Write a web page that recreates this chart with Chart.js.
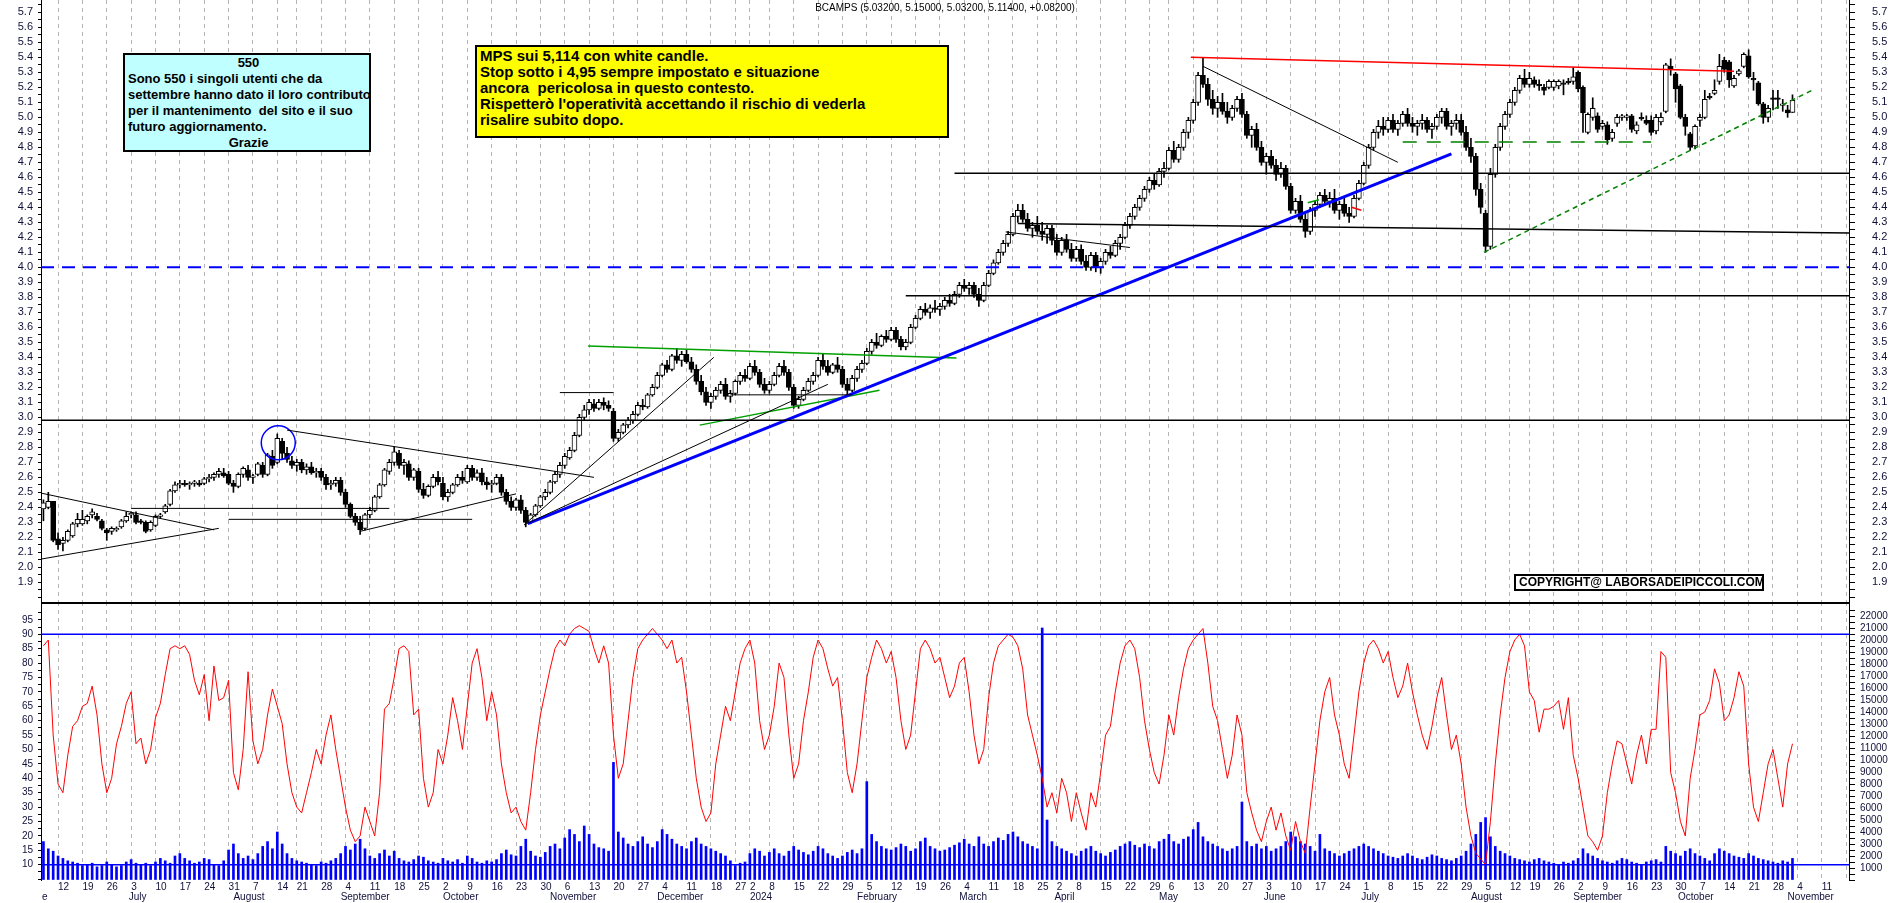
<!DOCTYPE html>
<html>
<head>
<meta charset="utf-8">
<title>BCAMPS</title>
<script src="https://cdn.jsdelivr.net/npm/chart.js@4.4.1/dist/chart.umd.min.js"></script>
<style>
  html, body { margin: 0; padding: 0; background: #fff; }
  body { width: 1890px; height: 903px; position: relative; overflow: hidden; font-family: Arial, "Liberation Sans", sans-serif; }
  canvas { position: absolute; left: 0; }
  #top { top: 0; }
  #bot { top: 602px; }
  #title { position: absolute; top: 2px; left: 0; width: 1890px; text-align: center; font-size: 10px; color: #000; z-index: 2; }
  .note { position: absolute; border: 2px solid #000; font-weight: bold; color: #000; box-sizing: border-box; z-index: 2; white-space: nowrap; }
  #info { left: 123px; top: 53px; width: 248px; height: 99px; background: #c0ffff; font-size: 13px; line-height: 16px; padding: 0 0 0 3px; }
  #info .c { text-align: center; }
  #comment { left: 475px; top: 45px; width: 474px; height: 93px; background: #ffff00; font-size: 15px; line-height: 16px; padding: 1px 3px; }
  #copy { left: 1514px; top: 574px; width: 250px; height: 17px; background: #fff; font-size: 12px; line-height: 13px; padding: 0 3px; }
</style>
</head>
<body>
<canvas id="top" width="1890" height="602"></canvas>
<canvas id="bot" width="1890" height="301"></canvas>
<div id="title">BCAMPS (5.03200, 5.15000, 5.03200, 5.11400, +0.08200)</div>
<div class="note" id="info">
  <div class="c">550</div>
  <div>Sono 550 i singoli utenti che da</div>
  <div>settembre hanno dato il loro contributo</div>
  <div>per il mantenimento&nbsp; del sito e il suo</div>
  <div>futuro aggiornamento.</div>
  <div class="c">Grazie</div>
</div>
<div class="note" id="comment">
  <div>MPS sui 5,114 con white candle.</div>
  <div>Stop sotto i 4,95 sempre impostato e situazione</div>
  <div>ancora&nbsp; pericolosa in questo contesto.</div>
  <div>Rispetterò l'operatività accettando il rischio di vederla</div>
  <div>risalire subito dopo.</div>
</div>
<div class="note" id="copy">COPYRIGHT@ LABORSADEIPICCOLI.COM</div>
<script>
// candele giornaliere [apertura, massimo, minimo, chiusura], dal 7 giugno 2023 al 1 novembre 2024
const candles = [
  [2.39,2.45,2.31,2.43],[2.40,2.50,2.39,2.44],[2.44,2.44,2.17,2.18],
  [2.19,2.23,2.12,2.15],[2.16,2.20,2.11,2.18],[2.18,2.25,2.17,2.24],[2.21,2.30,2.20,2.29],[2.29,2.36,2.27,2.32],
  [2.29,2.38,2.28,2.32],[2.31,2.35,2.29,2.34],[2.35,2.39,2.33,2.37],[2.34,2.36,2.31,2.32],[2.31,2.32,2.25,2.26],
  [2.25,2.26,2.18,2.23],[2.24,2.27,2.22,2.26],[2.25,2.27,2.24,2.26],[2.27,2.32,2.26,2.31],[2.31,2.37,2.30,2.34],
  [2.35,2.37,2.33,2.36],[2.35,2.37,2.29,2.30],[2.31,2.32,2.29,2.30],[2.30,2.31,2.23,2.24],[2.25,2.31,2.24,2.30],
  [2.28,2.35,2.27,2.34],[2.34,2.36,2.33,2.35],[2.37,2.42,2.36,2.41],[2.42,2.52,2.41,2.51],[2.51,2.57,2.50,2.55],
  [2.55,2.58,2.53,2.56],[2.56,2.58,2.54,2.55],[2.55,2.57,2.52,2.56],[2.56,2.58,2.54,2.57],[2.56,2.58,2.54,2.55],
  [2.56,2.60,2.55,2.59],[2.59,2.62,2.57,2.60],[2.60,2.63,2.58,2.62],[2.62,2.66,2.60,2.64],[2.63,2.66,2.60,2.61],
  [2.62,2.64,2.55,2.56],[2.56,2.58,2.50,2.54],[2.54,2.63,2.53,2.62],[2.62,2.67,2.60,2.66],[2.65,2.68,2.58,2.60],
  [2.60,2.62,2.56,2.61],[2.62,2.70,2.61,2.69],[2.68,2.70,2.60,2.62],[2.62,2.76,2.61,2.75],[2.74,2.78,2.66,2.68],
  [2.70,2.89,2.69,2.86],[2.84,2.86,2.72,2.76],[2.76,2.80,2.70,2.72],[2.71,2.74,2.66,2.68],
  [2.68,2.72,2.64,2.70],[2.70,2.72,2.63,2.65],[2.65,2.69,2.62,2.67],[2.67,2.70,2.62,2.63],[2.63,2.66,2.60,2.64],
  [2.64,2.66,2.58,2.60],[2.60,2.62,2.52,2.55],[2.55,2.58,2.52,2.56],[2.56,2.60,2.54,2.58],[2.58,2.60,2.48,2.50],
  [2.50,2.52,2.40,2.42],[2.42,2.43,2.33,2.34],[2.34,2.36,2.28,2.30],[2.30,2.34,2.22,2.25],[2.26,2.36,2.25,2.35],
  [2.35,2.40,2.33,2.38],[2.38,2.48,2.37,2.47],[2.47,2.56,2.46,2.55],[2.55,2.66,2.54,2.65],[2.64,2.72,2.62,2.70],
  [2.70,2.80,2.68,2.77],[2.76,2.78,2.66,2.68],[2.68,2.72,2.62,2.70],[2.69,2.71,2.58,2.60],[2.60,2.66,2.58,2.65],
  [2.64,2.66,2.50,2.52],[2.52,2.56,2.46,2.48],[2.48,2.55,2.47,2.54],[2.54,2.62,2.53,2.60],[2.60,2.64,2.55,2.57],
  [2.56,2.60,2.45,2.47],[2.47,2.52,2.44,2.50],[2.50,2.56,2.49,2.55],[2.55,2.62,2.54,2.60],[2.60,2.64,2.56,2.58],
  [2.57,2.68,2.56,2.66],[2.66,2.68,2.58,2.60],[2.60,2.65,2.58,2.63],[2.63,2.66,2.55,2.57],[2.57,2.60,2.52,2.55],
  [2.55,2.58,2.50,2.56],[2.56,2.62,2.55,2.60],[2.60,2.62,2.48,2.50],[2.50,2.52,2.42,2.44],[2.44,2.47,2.38,2.40],
  [2.40,2.46,2.38,2.45],[2.45,2.48,2.36,2.38],[2.38,2.40,2.27,2.30],[2.30,2.36,2.29,2.35],[2.35,2.42,2.34,2.41],
  [2.41,2.48,2.40,2.47],[2.47,2.52,2.45,2.50],[2.50,2.58,2.49,2.57],[2.57,2.64,2.56,2.62],[2.62,2.70,2.60,2.68],
  [2.68,2.76,2.66,2.74],[2.73,2.80,2.72,2.78],[2.78,2.90,2.77,2.88],[2.88,3.02,2.87,3.00],[3.00,3.08,2.98,3.05],
  [3.05,3.12,3.02,3.10],[3.09,3.12,3.04,3.06],[3.06,3.12,3.05,3.10],[3.10,3.13,3.05,3.08],[3.08,3.11,3.04,3.06],
  [3.04,3.06,2.84,2.86],[2.86,2.92,2.84,2.90],[2.90,2.96,2.89,2.95],[2.95,3.00,2.93,2.98],[2.98,3.04,2.96,3.02],
  [3.02,3.10,3.01,3.08],[3.08,3.12,3.05,3.07],[3.07,3.16,3.06,3.15],[3.15,3.22,3.14,3.20],[3.20,3.30,3.19,3.28],
  [3.28,3.36,3.27,3.35],[3.35,3.38,3.30,3.32],[3.32,3.42,3.31,3.41],[3.41,3.46,3.36,3.38],[3.38,3.44,3.34,3.42],
  [3.42,3.45,3.36,3.37],[3.37,3.40,3.30,3.32],[3.32,3.35,3.22,3.24],[3.24,3.28,3.15,3.17],[3.17,3.20,3.08,3.10],
  [3.10,3.16,3.06,3.14],[3.14,3.20,3.12,3.18],[3.18,3.24,3.16,3.22],[3.22,3.26,3.12,3.14],[3.14,3.18,3.10,3.16],
  [3.16,3.25,3.15,3.24],[3.24,3.30,3.22,3.28],[3.28,3.32,3.24,3.26],
  [3.26,3.36,3.25,3.34],[3.34,3.38,3.28,3.30],[3.30,3.32,3.20,3.22],[3.22,3.26,3.16,3.18],
  [3.18,3.24,3.16,3.22],[3.22,3.30,3.21,3.28],[3.28,3.36,3.27,3.34],[3.34,3.38,3.28,3.30],[3.30,3.32,3.18,3.20],
  [3.20,3.22,3.06,3.08],[3.08,3.14,3.06,3.12],[3.12,3.20,3.11,3.18],[3.18,3.26,3.17,3.24],[3.24,3.30,3.22,3.28],
  [3.28,3.40,3.27,3.38],[3.38,3.42,3.32,3.34],[3.34,3.38,3.28,3.30],[3.30,3.36,3.29,3.35],[3.35,3.40,3.30,3.32],
  [3.32,3.34,3.20,3.22],[3.22,3.26,3.15,3.18],[3.18,3.28,3.17,3.26],[3.26,3.34,3.24,3.32],[3.32,3.38,3.30,3.36],
  [3.36,3.46,3.35,3.44],[3.44,3.52,3.42,3.50],[3.50,3.56,3.46,3.48],[3.48,3.55,3.47,3.54],[3.54,3.58,3.50,3.52],
  [3.52,3.60,3.51,3.58],[3.58,3.60,3.50,3.52],[3.52,3.54,3.45,3.47],[3.47,3.52,3.45,3.50],[3.50,3.62,3.49,3.60],
  [3.60,3.68,3.59,3.66],[3.66,3.74,3.65,3.72],[3.72,3.76,3.68,3.70],[3.70,3.75,3.66,3.73],[3.73,3.78,3.70,3.72],
  [3.72,3.76,3.68,3.74],[3.74,3.80,3.72,3.78],[3.78,3.82,3.74,3.76],[3.76,3.84,3.75,3.82],[3.82,3.90,3.80,3.88],
  [3.88,3.92,3.84,3.86],[3.86,3.90,3.82,3.88],[3.88,3.90,3.80,3.82],[3.82,3.86,3.74,3.78],[3.78,3.90,3.77,3.88],
  [3.88,3.98,3.87,3.96],[3.96,4.05,3.95,4.03],[4.03,4.12,4.02,4.10],[4.10,4.18,4.08,4.16],[4.16,4.24,4.14,4.22],
  [4.22,4.36,4.21,4.34],[4.34,4.42,4.30,4.38],[4.38,4.42,4.30,4.32],[4.32,4.36,4.24,4.26],[4.26,4.30,4.20,4.28],
  [4.28,4.34,4.22,4.24],[4.24,4.30,4.18,4.22],[4.22,4.28,4.16,4.26],[4.26,4.28,4.15,4.18],
  [4.18,4.22,4.08,4.10],[4.10,4.20,4.08,4.18],[4.18,4.22,4.10,4.12],[4.12,4.16,4.04,4.06],
  [4.06,4.14,4.04,4.12],[4.12,4.15,4.02,4.04],[4.04,4.08,3.98,4.00],[4.00,4.10,3.98,4.08],[4.08,4.10,3.97,4.00],
  [4.00,4.06,3.96,4.04],[4.04,4.12,4.02,4.10],[4.10,4.14,4.06,4.08],[4.08,4.18,4.07,4.16],[4.16,4.22,4.12,4.20],
  [4.20,4.30,4.19,4.28],[4.28,4.36,4.26,4.34],[4.34,4.42,4.32,4.40],[4.40,4.48,4.38,4.46],[4.46,4.54,4.44,4.52],
  [4.52,4.60,4.50,4.58],[4.58,4.62,4.52,4.55],[4.55,4.66,4.54,4.64],[4.64,4.70,4.60,4.66],
  [4.66,4.80,4.65,4.78],[4.78,4.84,4.70,4.72],[4.72,4.82,4.70,4.80],[4.80,4.92,4.78,4.90],[4.90,5.00,4.86,4.98],
  [4.98,5.12,4.96,5.10],[5.10,5.30,5.08,5.28],[5.28,5.40,5.20,5.22],[5.22,5.26,5.08,5.12],[5.12,5.18,5.02,5.06],
  [5.06,5.14,5.00,5.10],[5.10,5.16,5.02,5.04],[5.04,5.10,4.96,5.00],[5.00,5.08,4.98,5.06],[5.06,5.14,5.04,5.12],
  [5.12,5.16,5.00,5.02],[5.02,5.04,4.86,4.88],[4.88,4.94,4.80,4.92],[4.92,4.96,4.78,4.80],[4.80,4.84,4.68,4.70],
  [4.70,4.76,4.62,4.74],[4.74,4.78,4.66,4.68],[4.68,4.72,4.58,4.62],[4.62,4.70,4.60,4.66],[4.66,4.68,4.52,4.54],
  [4.54,4.56,4.36,4.38],[4.38,4.46,4.36,4.44],[4.44,4.48,4.30,4.32],[4.32,4.36,4.20,4.24],[4.24,4.40,4.22,4.38],
  [4.38,4.44,4.34,4.42],[4.42,4.50,4.40,4.48],[4.48,4.52,4.42,4.44],[4.44,4.50,4.40,4.46],[4.46,4.52,4.36,4.38],
  [4.38,4.44,4.32,4.42],[4.42,4.46,4.34,4.36],[4.36,4.40,4.30,4.34],[4.34,4.48,4.33,4.46],[4.46,4.58,4.45,4.56],
  [4.56,4.70,4.55,4.68],[4.68,4.82,4.66,4.80],[4.80,4.92,4.78,4.90],[4.90,4.98,4.86,4.94],[4.94,5.00,4.88,4.92],
  [4.92,5.00,4.90,4.98],[4.98,5.02,4.90,4.92],[4.92,4.98,4.88,4.96],[4.96,5.04,4.94,5.02],[5.02,5.06,4.94,4.96],
  [4.96,5.00,4.90,4.94],[4.94,4.98,4.88,4.96],[4.96,5.02,4.92,4.98],[4.98,5.00,4.90,4.92],[4.92,4.96,4.86,4.94],
  [4.94,5.02,4.92,5.00],[5.00,5.06,4.96,5.04],[5.04,5.06,4.92,4.94],[4.94,4.98,4.88,4.96],[4.96,5.02,4.92,4.98],
  [4.98,5.02,4.88,4.90],[4.90,4.94,4.78,4.80],[4.80,4.86,4.70,4.74],[4.74,4.76,4.48,4.52],[4.52,4.56,4.36,4.40],
  [4.36,4.38,4.10,4.14],[4.14,4.66,4.12,4.62],[4.62,4.82,4.60,4.80],[4.80,4.96,4.78,4.94],[4.94,5.04,4.92,5.02],
  [5.02,5.12,5.00,5.10],[5.10,5.20,5.08,5.18],[5.18,5.28,5.16,5.26],[5.26,5.32,5.20,5.22],
  [5.22,5.30,5.20,5.26],[5.25,5.27,5.20,5.22],[5.22,5.25,5.18,5.21],[5.20,5.22,5.15,5.18],[5.20,5.25,5.19,5.24],
  [5.20,5.25,5.18,5.24],[5.21,5.25,5.19,5.24],[5.23,5.25,5.15,5.22],[5.24,5.26,5.22,5.23],[5.24,5.33,5.22,5.27],
  [5.30,5.31,5.17,5.19],[5.20,5.21,4.90,5.03],[4.90,5.03,4.89,5.02],[5.00,5.13,4.98,5.06],[5.01,5.03,4.90,4.92],
  [4.94,4.98,4.92,4.96],[4.95,4.97,4.82,4.85],[4.86,4.92,4.84,4.90],[4.96,5.02,4.94,5.00],[5.00,5.02,4.98,5.01],
  [5.00,5.02,4.98,5.01],[5.01,5.02,4.90,4.92],[4.91,4.97,4.89,4.95],[5.00,5.03,4.98,4.99],[4.98,5.01,4.95,4.96],
  [4.98,5.01,4.88,4.90],[4.91,5.02,4.89,5.00],[4.97,5.03,4.95,5.00],[5.04,5.36,5.03,5.35],[5.34,5.39,5.28,5.32],
  [5.29,5.30,5.10,5.19],[5.21,5.22,4.99,5.00],[5.00,5.02,4.88,4.94],[4.89,4.90,4.78,4.80],[4.81,4.95,4.79,4.94],
  [4.98,5.02,4.94,5.00],[5.00,5.18,4.99,5.12],[5.14,5.16,5.12,5.13],[5.16,5.25,5.15,5.18],[5.24,5.42,5.22,5.34],
  [5.38,5.40,5.30,5.32],[5.37,5.38,5.20,5.25],[5.21,5.28,5.20,5.26],[5.29,5.32,5.28,5.31],[5.34,5.43,5.33,5.42],
  [5.41,5.45,5.26,5.27],[5.26,5.30,5.18,5.25],[5.23,5.24,5.08,5.09],[5.09,5.10,4.96,5.00],[5.00,5.08,4.97,5.06],
  [5.13,5.18,5.05,5.12],[5.13,5.18,5.06,5.12],[5.08,5.12,5.04,5.09],[5.05,5.08,5.00,5.03],[5.032,5.15,5.032,5.114]
];

// oscillatore (scala sinistra del pannello basso)
const oscValues = [
  86,88,55,38,35,48,58,60,65,66, 72,62,45,35,40,52,58,66,70,52, 54,45,50,61,66,76,85,86,85,86,
  83,74,69,76,60,79,67,68,74,42, 36,50,77,53,45,50,62,71,65,59, 45,35,30,28,35,42,50,45,55,62,
  50,40,30,22,18,20,30,25,20,35, 64,66,75,85,86,84,62,64,40,30, 35,50,45,55,68,60,50,65,80,85,
  75,60,70,62,45,35,28,30,25,22, 35,50,62,70,78,85,88,86,90,92, 93,92,91,85,80,86,80,55,40,45,
  60,75,85,88,90,92,90,88,85,88, 80,82,70,55,40,30,25,28,45,55, 65,60,70,80,85,88,80,60,50,55,
  65,80,75,55,40,45,60,70,82,88, 85,78,72,75,60,42,35,45,60,75, 82,88,85,80,84,75,60,50,55,70,
  85,88,85,80,82,75,68,72,80,82, 70,55,45,50,68,80,86,88,90,89, 86,78,62,55,48,40,30,35,28,40,
  35,25,35,28,22,35,30,42,55,58, 70,80,86,88,85,75,60,50,42,38, 48,62,55,68,78,85,88,90,92,80,
  65,60,50,40,48,62,55,35,28,22, 18,25,30,22,28,20,15,25,18,14, 30,45,60,70,75,62,55,45,40,55,
  70,80,86,88,85,80,84,75,68,72, 80,70,62,55,50,58,68,75,62,50, 55,45,30,20,14,12,10,25,45,62,
  75,84,88,90,86,70,67,56,64,64, 65,67,57,68,48,40,30,20,18,15, 20,35,45,53,52,45,38,48,55,45,
  57,57,84,82,42,35,25,20,40,50, 62,63,67,78,73,60,62,68,77,72, 45,30,25,35,45,50,40,30,45,52
];

// volumi (scala destra del pannello basso)
const volumes = [
  3200,2600,2400,2000,1800,1600,1500,1400,1200,1300, 1400,1100,1200,1500,1300,1100,1200,1500,1700,1400,
  1300,1400,1200,1500,1800,1600,1400,2000,2200,1800, 1600,1400,1500,1800,1700,1300,1200,1600,2500,3000,
  2200,1800,2000,1700,2200,2800,3200,2600,4000,3000, 2200,1800,1600,1500,1400,1300,1200,1500,1400,1600,
  1800,2200,2800,2500,3000,3400,2600,2000,1800,2200, 2500,2000,2400,1800,1600,1500,1700,2000,1900,1600,
  1500,1400,1800,1600,1500,1700,1400,2000,1800,1500, 1400,1600,1500,1700,2200,2500,2100,2000,2800,3400,
  2400,2000,1900,2300,2800,3000,2600,3500,4200,3800, 3200,4500,3800,3000,2700,2600,2400,9800,4000,3500,
  3000,2800,3200,3600,3000,2700,3200,4200,3800,3400, 3000,2800,2600,3200,3500,3000,2800,2600,2400,2200,
  2000,1600,1200,1400,1500,2200,2600,2400,2000,2300, 2600,2200,2000,2400,2800,2500,2300,2100,2400,2800,
  2600,2200,2000,1800,2000,2300,2500,2200,2600,8200, 3800,3200,2800,2600,2500,2700,3000,2800,2400,2600,
  3200,3500,2800,2600,2400,2500,2700,2900,3100,3400, 3000,2800,3600,3000,2800,3200,3500,3300,3800,4000,
  3600,3200,3000,2800,2600,21000,5000,3200,2800,2600, 2400,2200,2000,2400,2600,2800,2400,2200,2000,2300,
  2500,2800,3000,3200,2900,2700,3000,2800,2600,3200, 3400,3800,3200,3000,3400,3600,4200,4800,3600,3200,
  3000,2800,2600,2400,2600,2800,6500,3200,2800,3000, 2600,2800,2400,2600,2800,3200,4000,3600,3200,3000,
  2800,2400,3800,2600,2400,2200,2000,2200,2400,2600, 2800,3000,2800,2600,2400,2200,2000,1900,1800,2000,
  2200,2000,1800,1700,1900,2100,2000,1800,1700,1600, 1800,2000,2400,3000,3800,4800,5200,3600,2800,2400,
  2200,2000,1800,1700,1600,1500,1700,1800,1600,1500, 1400,1300,1500,1400,1600,1800,2600,2200,2000,1800,
  1600,1500,1400,1600,1800,1700,1500,1400,1300,1500, 1600,1700,1500,2800,2400,2200,2000,2400,2600,2200,
  2000,1800,1600,2200,2600,2400,2200,2000,1900,1800, 2200,2000,1800,1700,1600,1500,1400,1600,1500,1800
];

// primo giorno di borsa di ogni settimana (indice) e numero del giorno
const weekTickIdx = [3,8,13,18,23,28,33,38,43,48,52,57,62,67,72,77,82,87,92,97,102,107,112,117,122,127,132,137,142,145,
  149,154,159,164,169,174,179,184,189,194,199,204,208,212,217,222,227,231,236,241,246,251,256,261,266,271,276,281,286,291,
  296,301,305,310,315,320,325,330,335,340,345,350,355,360,365,370];
const weekTickDay = ['12','19','26','3','10','17','24','31','7','14','21','28','4','11','18','25','2','9','16','23','30','6','13','20','27','4','11','18','27','2',
  '8','15','22','29','5','12','19','26','4','11','18','25','2','8','15','22','29','6','13','20','27','3','10','17','24','1','8','15','22','29',
  '5','12','19','26','2','9','16','23','30','7','14','21','28','4','11'];
const monthTickIdx = [-0.3,17.5,39,61,82,104,126,145,167,188,207.5,229,250.5,270.5,293,314,335.5,358];
const monthNames = ['e','July','August','September','October','November','December','2024','February','March','April','May','June','July','August','September','October','November'];

const priceTicks = [1.9,2.0,2.1,2.2,2.3,2.4,2.5,2.6,2.7,2.8,2.9,3.0,3.1,3.2,3.3,3.4,3.5,3.6,3.7,3.8,3.9,4.0,4.1,4.2,4.3,4.4,4.5,4.6,4.7,4.8,4.9,5.0,5.1,5.2,5.3,5.4,5.5,5.6,5.7];
const oscTicks = [10,15,20,25,30,35,40,45,50,55,60,65,70,75,80,85,90,95];
const volTicks = [1000,2000,3000,4000,5000,6000,7000,8000,9000,10000,11000,12000,13000,14000,15000,16000,17000,18000,19000,20000,21000,22000];

// linee tracciate sul grafico [x1, y1, x2, y2] in giorni e prezzo
const blackLines = [
  [-0.5,2.495,35,2.25], [-0.5,2.055,36,2.26], [18,2.393,71,2.393], [38,2.32,88,2.32],
  [65,2.24,97,2.49], [50,2.915,113,2.60], [98.7,2.284,137.6,3.40], [98.7,2.284,161,3.22],
  [106,3.165,117,3.165], [141,3.15,166,3.15], [197.5,4.236,223,4.132], [238,5.34,278,4.70]
];
const blackLevels = [
  [-0.5,2.98,370.6,2.98], [177,3.811,370.6,3.811], [187,4.627,370.6,4.627], [200,4.292,370.6,4.228]
];
const blueTrend = [[99.4,2.292,289,4.756]];
const blueDashed = [[-0.5,4.0,370.6,4.0]];
const greenLines = [[111.8,3.476,187.4,3.396], [134.7,2.948,171.6,3.18], [259.5,4.43,261.8,4.45]];
const greenDashed = [[279,4.835,330,4.835]];
const greenDotted = [[295.7,4.10,363,5.18]];
const redLines = [[235.5,5.40,347,5.307], [268.5,4.40,270.5,4.38]];
const circleMark = [{x:48.2, y:2.83}];
const oscLevels = [[-0.5,90,370.6,90], [-0.5,10,370.6,10]];

const xMin = -0.5, xMax = 370.6;

function segData(s) { return [{x:s[0], y:s[1]}, {x:s[2], y:s[3]}]; }
function lineSets(list, color, width, dash, yAxis) {
  return list.map(s => ({
    type: 'line', data: segData(s), borderColor: color, borderWidth: width,
    borderDash: dash || [], pointRadius: 0, fill: false, tension: 0, order: 0,
    yAxisID: yAxis || 'y'
  }));
}

const tickFont = { family: 'Arial, "Liberation Sans", sans-serif', size: 11 };
const smallFont = { family: 'Arial, "Liberation Sans", sans-serif', size: 10 };
const labelColor = '#10103a';

function withMinor(list, step) {
  const out = [];
  list.forEach(v => { out.push({value: v}); out.push({value: v + step}); });
  out.unshift({value: list[0] - step});
  out.unshift({value: list[0] - 2 * step});
  return out;
}
function isLabelled(list, v) {
  return list.some(t => Math.abs(t - v) < 1e-6);
}
// assi: dimensioni fisse e nessun margine extra
function fixY(s) { s.width = 41; s.paddingTop = 0; s.paddingBottom = 0; }
function fixX(h) { return s => { s.height = h; s.paddingLeft = 0; s.paddingRight = 0; }; }

const xGrid = {
  type: 'linear', min: xMin, max: xMax, offset: false,
  afterBuildTicks: s => { s.ticks = weekTickIdx.map(v => ({value: v})); },
  grid: { color: '#b4b4b4', lineWidth: 1, drawTicks: false, offset: false },
  border: { display: false, dash: [4, 4] }
};

// ---- pannello prezzi ----
const priceAxis = (pos) => ({
  position: pos, min: 1.769, max: 5.782,
  afterBuildTicks: s => { s.ticks = withMinor(priceTicks, 0.05); },
  afterFit: fixY,
  ticks: {
    font: tickFont, color: labelColor, padding: pos === 'left' ? 5 : 17,
    autoSkip: false,
    callback: v => isLabelled(priceTicks, v) ? v.toFixed(1) : ''
  },
  grid: { drawOnChartArea: false, drawTicks: true, tickLength: pos === 'left' ? 3 : 6, tickColor: '#000' },
  border: { display: true, color: '#000', width: 1 }
});

new Chart(document.getElementById('top'), {
  type: 'bar',
  data: {
    datasets: [
      {
        data: candles.map((c, i) => ({x: i, y: [c[2], c[1]]})),
        backgroundColor: '#000', barThickness: 1, grouped: false, order: 2
      },
      {
        data: candles.map((c, i) => ({x: i, y: [c[0], c[3]]})),
        backgroundColor: candles.map(c => c[3] >= c[0] ? '#ffffff' : '#000000'),
        borderColor: '#000', borderWidth: 1, borderSkipped: false,
        barThickness: 5, minBarLength: 1, grouped: false, order: 1
      },
      ...lineSets(blackLevels, '#000', 1.5),
      ...lineSets(blackLines, '#000', 1),
      ...lineSets(blueDashed, '#0000ff', 2, [13, 8]),
      ...lineSets(blueTrend, '#0000ff', 3),
      ...lineSets(greenLines, '#00a000', 1.5),
      ...lineSets(greenDashed, '#008000', 1.5, [14, 10]),
      ...lineSets(greenDotted, '#008000', 1.5, [5, 4]),
      ...lineSets(redLines, '#ff0000', 1.5),
      {
        type: 'scatter', data: circleMark, pointRadius: 17, pointBorderWidth: 1.5,
        pointBorderColor: '#0000ff', pointBackgroundColor: 'rgba(0,0,0,0)', order: 0
      }
    ]
  },
  options: {
    responsive: false, animation: false,
    layout: { padding: 0, autoPadding: false },
    plugins: { legend: { display: false }, tooltip: { enabled: false } },
    scales: {
      x: Object.assign({}, xGrid, { ticks: { display: false }, afterFit: fixX(0) }),
      y: priceAxis('left'),
      yR: priceAxis('right')
    }
  }
});

// ---- pannello oscillatore e volumi ----
const separator = {
  id: 'separator',
  afterDraw(chart) {
    const {ctx, chartArea} = chart;
    ctx.save();
    ctx.strokeStyle = '#000';
    ctx.lineWidth = 2;
    ctx.beginPath();
    ctx.moveTo(chartArea.left, chartArea.top + 1);
    ctx.lineTo(chartArea.right, chartArea.top + 1);
    ctx.stroke();
    ctx.restore();
  }
};

new Chart(document.getElementById('bot'), {
  type: 'bar',
  data: {
    datasets: [
      {
        data: volumes.map((v, i) => ({x: i, y: v})),
        backgroundColor: '#0000ff', barThickness: 2, grouped: false, order: 3, yAxisID: 'vol'
      },
      {
        type: 'line', data: oscValues.map((v, i) => ({x: i, y: v})),
        borderColor: '#ff0000', borderWidth: 1, pointRadius: 0, tension: 0, order: 1, yAxisID: 'osc'
      },
      ...lineSets(oscLevels, '#0000ff', 1.5, [], 'osc')
    ]
  },
  options: {
    responsive: false, animation: false,
    layout: { padding: 0, autoPadding: false },
    plugins: { legend: { display: false }, tooltip: { enabled: false } },
    scales: {
      x: Object.assign({}, xGrid, {
        weight: 0,
        afterFit: fixX(11),
        ticks: {
          align: 'start', padding: 1, font: smallFont, color: labelColor, autoSkip: false, maxRotation: 0, minRotation: 0,
          callback: (v, i) => weekTickDay[i] || ''
        }
      }),
      xm: {
        type: 'linear', min: xMin, max: xMax, position: 'bottom', weight: 1, offset: false,
        afterBuildTicks: s => { s.ticks = monthTickIdx.map(v => ({value: v})); },
        afterFit: fixX(12),
        grid: { display: false, drawTicks: false, offset: false },
        border: { display: false },
        ticks: {
          align: 'start', padding: 0, font: smallFont, color: labelColor, autoSkip: false, maxRotation: 0, minRotation: 0,
          callback: (v, i) => monthNames[i]
        }
      },
      osc: {
        position: 'left', min: 4.7, max: 101.2,
        afterBuildTicks: s => { s.ticks = withMinor(oscTicks, 2.5); },
        afterFit: fixY,
        ticks: { font: smallFont, color: labelColor, padding: 5, autoSkip: false,
          callback: v => isLabelled(oscTicks, v) ? String(v) : '' },
        grid: { drawOnChartArea: false, tickLength: 3, tickColor: '#000' },
        border: { display: true, color: '#000', width: 1 }
      },
      vol: {
        position: 'right', min: 0, max: 23167,
        afterBuildTicks: s => { s.ticks = withMinor(volTicks, 500); },
        afterFit: fixY,
        ticks: { font: smallFont, color: labelColor, padding: 5, autoSkip: false,
          callback: v => isLabelled(volTicks, v) ? String(v) : '' },
        grid: { drawOnChartArea: false, tickLength: 6, tickColor: '#000' },
        border: { display: true, color: '#000', width: 1 }
      }
    }
  },
  plugins: [separator]
});
</script>
</body>
</html>
